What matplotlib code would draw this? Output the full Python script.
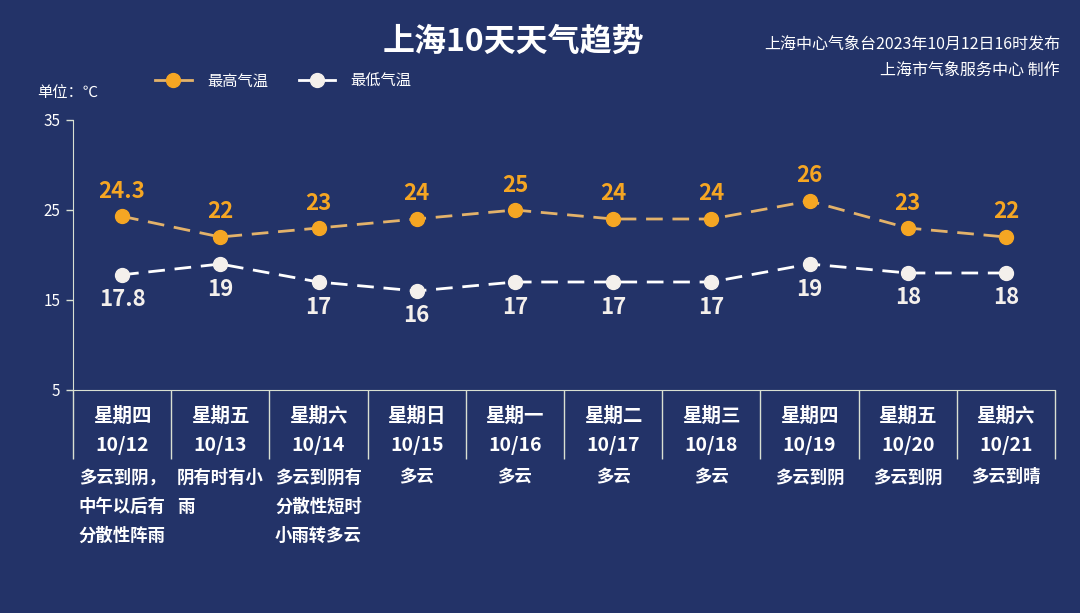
import numpy as np
import matplotlib.pyplot as plt
from matplotlib.lines import Line2D

plt.rcParams['font.family'] = ['Noto Sans CJK SC', 'DejaVu Sans']

# data
days = ['星期四', '星期五', '星期六', '星期日', '星期一', '星期二', '星期三', '星期四', '星期五', '星期六']
dates = ['10/12', '10/13', '10/14', '10/15', '10/16', '10/17', '10/18', '10/19', '10/20', '10/21']
weather = ['多云到阴，\n中午以后有\n分散性阵雨', '阴有时有小\n雨', '多云到阴有\n分散性短时\n小雨转多云',
           '多云', '多云', '多云', '多云', '多云到阴', '多云到阴', '多云到晴']
high = [24.3, 22, 23, 24, 25, 24, 24, 26, 23, 22]
low = [17.8, 19, 17, 16, 17, 17, 17, 19, 18, 18]
high_labels = ['24.3', '22', '23', '24', '25', '24', '24', '26', '23', '22']
low_labels = ['17.8', '19', '17', '16', '17', '17', '17', '19', '18', '18']
yticks = [5, 15, 25, 35]

bg = '#233368'
axis_c = '#d9e0d2'
orange = '#f5a623'
orange_line = '#e3b26a'
white = '#f4f0ec'

fig = plt.figure(figsize=(10.8, 6.13), dpi=100, facecolor=bg)
ax = fig.add_axes([73/1080, 1-390/613, (1055-73)/1080, 270/613])
ax.set_facecolor(bg)

x = np.arange(len(days))
ax.plot(x, high, color=orange_line, lw=2, dashes=(6, 3.5), zorder=2)
ax.plot(x, high, 'o', color=orange, ms=10, zorder=3)
ax.plot(x, low, color='white', lw=2, dashes=(6, 3.5), zorder=2)
ax.plot(x, low, 'o', color=white, ms=10, zorder=3)

for i in range(len(x)):
    ax.annotate(high_labels[i], (x[i], high[i]), xytext=(0, 18), textcoords='offset points',
                ha='center', va='center', color=orange, fontsize=16, fontweight='bold')
    ax.annotate(low_labels[i], (x[i], low[i]), xytext=(0, -18), textcoords='offset points',
                ha='center', va='center', color=white, fontsize=16, fontweight='bold')

ax.set_xlim(-0.5, len(days) - 0.5)
ax.set_ylim(5, 35)
ax.set_yticks(yticks)
ax.set_xticks(np.arange(-0.5, len(days)))
ax.set_xticklabels([])
ax.tick_params(axis='x', length=50, width=1, color=axis_c, direction='out')
ax.tick_params(axis='y', length=5, width=1, color=axis_c, labelcolor='white', labelsize=11, pad=4)
for s in ['top', 'right']:
    ax.spines[s].set_visible(False)
for s in ['left', 'bottom']:
    ax.spines[s].set_color(axis_c)

trans = ax.get_xaxis_transform()
for i in range(len(x)):
    ax.text(x[i], -0.097, days[i], transform=trans, ha='center', va='center',
            color='white', fontsize=14, fontweight='bold')
    ax.text(x[i], -0.205, dates[i], transform=trans, ha='center', va='center',
            color='white', fontsize=14, fontweight='bold')
    ax.text(x[i], -0.29, weather[i], transform=trans, ha='center', va='top', multialignment='left',
            color='white', fontsize=12.5, fontweight='bold', linespacing=1.8)

fig.text(0.475, 1-42/613, '上海10天天气趋势', ha='center', va='center', color='white',
         fontsize=23, fontweight='bold')
fig.text(1060/1080, 1-44/613, '上海中心气象台2023年10月12日16时发布', ha='right', va='center',
         color='white', fontsize=11.5)
fig.text(1060/1080, 1-70/613, '上海市气象服务中心 制作', ha='right', va='center',
         color='white', fontsize=11.5)
fig.text(37/1080, 1-93/613, '单位：℃', ha='left', va='center', color='white', fontsize=11)

h1 = Line2D([], [], color=orange_line, lw=2, marker='o', ms=10, mfc=orange, mec=orange)
h2 = Line2D([], [], color='white', lw=2, marker='o', ms=10, mfc=white, mec=white)
leg = fig.legend([h1, h2], ['最高气温', '最低气温'], loc='center left',
                 bbox_to_anchor=(155/1080, 1-81/613), ncol=2, frameon=False,
                 fontsize=11, labelcolor='white', handlelength=2.4, columnspacing=2.0,
                 handletextpad=1.0, borderpad=0, borderaxespad=0)

fig.savefig('out.png', dpi=100, facecolor=bg)
